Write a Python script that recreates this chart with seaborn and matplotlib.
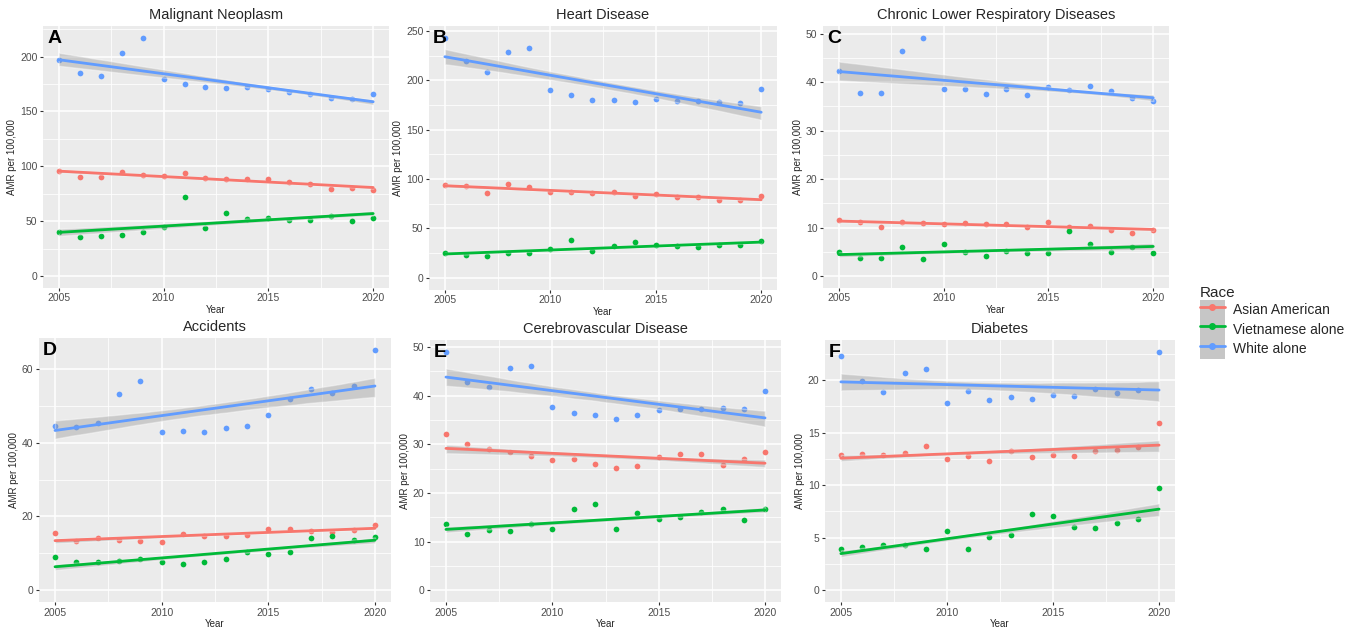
import matplotlib
matplotlib.use("Agg")
import matplotlib.pyplot as plt
import numpy as np
import pandas as pd
import seaborn as sns
from matplotlib.lines import Line2D
from matplotlib.patches import Patch
from matplotlib.ticker import MultipleLocator

# ----------------
# Data
# ----------------
years = list(range(2005, 2021))
races = ["Asian American", "Vietnamese alone", "White alone"]
colors = ["#F8766D", "#00BA38", "#619CFF"]

causes = ["Malignant Neoplasm", "Heart Disease", "Chronic Lower Respiratory Diseases",
          "Accidents", "Cerebrovascular Disease", "Diabetes"]
letters = ["A", "B", "C", "D", "E", "F"]

neoplasm_asian = [95.5, 90, 90.5, 95, 92, 91.5, 93.5, 89.5, 88, 88, 88.5, 85.5, 84, 79.5, 80.5, 78.5]
neoplasm_viet = [40, 36, 36.5, 37, 40.5, 45, 72, 43.5, 57.5, 52, 53, 51, 51.5, 55, 50.5, 52.5]
neoplasm_white = [197, 185, 182, 203, 217, 180, 175, 172.5, 171.5, 172, 170, 167.5, 165.5, 162.5, 161.5, 165.5]

heart_asian = [94, 93, 86, 95.5, 92, 87, 87, 86, 87, 83, 85, 82, 82, 79, 78.5, 83]
heart_viet = [25.5, 23, 22, 25, 25.5, 29, 38, 27.5, 32, 36, 33, 32.5, 31, 33, 33, 37]
heart_white = [243, 220, 209, 228.5, 233, 190, 185, 180.5, 180.5, 178, 181.5, 179, 179.5, 178.5, 177, 191.5]

clrd_asian = [11.5, 11.1, 10.1, 11.1, 10.9, 10.7, 10.9, 10.8, 10.8, 10.1, 11.1, 10.2, 10.4, 9.5, 8.9, 9.4]
clrd_viet = [4.9, 3.8, 3.8, 6.0, 3.6, 6.7, 4.9, 4.2, 5.1, 4.7, 4.7, 9.2, 6.7, 5.0, 6.0, 4.8]
clrd_white = [42.3, 37.8, 37.8, 46.5, 49.1, 38.5, 38.5, 37.6, 38.6, 37.4, 38.9, 38.3, 39.1, 38.2, 36.7, 36.1]

accidents_asian = [15.5, 13.3, 14.2, 13.5, 13.3, 13.0, 15.3, 14.7, 14.7, 15.0, 16.6, 16.5, 16.1, 15.8, 16.4, 17.6]
accidents_viet = [9.1, 7.6, 7.5, 8.0, 8.5, 7.6, 7.1, 7.7, 8.3, 10.3, 9.9, 10.4, 14.1, 14.6, 13.6, 14.5]
accidents_white = [44.6, 44.4, 45.3, 53.3, 56.8, 42.9, 43.1, 42.9, 44.1, 44.6, 47.6, 51.9, 54.5, 53.6, 55.3, 65.2]

cerebro_asian = [32.2, 30.0, 29.1, 28.5, 27.6, 26.7, 27.0, 26.0, 25.2, 25.5, 27.3, 28.0, 27.9, 25.8, 26.9, 28.4]
cerebro_viet = [13.5, 11.6, 12.3, 12.1, 13.5, 12.5, 16.7, 17.7, 12.5, 15.9, 14.6, 15.1, 16.1, 16.7, 14.4, 16.6]
cerebro_white = [49.0, 42.8, 41.8, 45.6, 46.1, 37.6, 36.5, 36.0, 35.3, 36.0, 37.0, 37.2, 37.3, 37.5, 37.3, 41.0]

diabetes_asian = [12.9, 13.0, 12.9, 13.1, 13.7, 12.5, 12.8, 12.3, 13.3, 12.7, 12.9, 12.8, 13.3, 13.4, 13.6, 15.9]
diabetes_viet = [3.9, 4.1, 4.3, 4.3, 3.9, 5.6, 3.9, 5.1, 5.3, 7.3, 7.1, 6.0, 5.9, 6.4, 6.8, 9.7]
diabetes_white = [22.3, 19.9, 18.9, 20.7, 21.1, 17.8, 19.0, 18.1, 18.4, 18.2, 18.6, 18.5, 19.2, 18.8, 19.1, 22.7]

series = {
    "Malignant Neoplasm": [neoplasm_asian, neoplasm_viet, neoplasm_white],
    "Heart Disease": [heart_asian, heart_viet, heart_white],
    "Chronic Lower Respiratory Diseases": [clrd_asian, clrd_viet, clrd_white],
    "Accidents": [accidents_asian, accidents_viet, accidents_white],
    "Cerebrovascular Disease": [cerebro_asian, cerebro_viet, cerebro_white],
    "Diabetes": [diabetes_asian, diabetes_viet, diabetes_white],
}

rows = []
for cause, vals in series.items():
    for race, v in zip(races, vals):
        for yr, amr in zip(years, v):
            rows.append({"Cause": cause, "Race": race, "Year": yr, "AMR": amr})
df = pd.DataFrame(rows)

y_steps = [50, 50, 10, 20, 10, 5]

# panel boxes in figure fraction: left, bottom, width, height
boxes = [
    (0.0314, 0.543, 0.2527, 0.4157),
    (0.3134, 0.540, 0.2542, 0.4187),
    (0.6012, 0.543, 0.2527, 0.4157),
    (0.0285, 0.0444, 0.2571, 0.4191),
    (0.3141, 0.0444, 0.2564, 0.4159),
    (0.6026, 0.0444, 0.2557, 0.4159),
]

sns.set_theme(style="darkgrid", rc={"axes.facecolor": "#EBEBEB", "grid.color": "white"})
plt.rcParams["font.family"] = ["Liberation Sans", "DejaVu Sans"]

fig = plt.figure(figsize=(13.69, 6.3), dpi=100)

for i, cause in enumerate(causes):
    ax = fig.add_axes(boxes[i])
    sub = df[df["Cause"] == cause]
    for race, col in zip(races, colors):
        d = sub[sub["Race"] == race]
        sns.regplot(data=d, x="Year", y="AMR", ax=ax, color=col, ci=68,
                    n_boot=1000, seed=7,
                    scatter_kws=dict(s=17, linewidths=0, alpha=1, zorder=2),
                    line_kws=dict(lw=2, zorder=4))
        band = ax.collections[-1]
        band.set_facecolor("#999999")
        band.set_alpha(0.4)
        band.set_zorder(3)

    ymax = sub["AMR"].max()
    ax.set_xlim(2004.25, 2020.75)
    ax.set_ylim(-0.05 * ymax, 1.05 * ymax)
    ax.xaxis.set_major_locator(MultipleLocator(5))
    ax.xaxis.set_minor_locator(MultipleLocator(2.5))
    ax.yaxis.set_major_locator(MultipleLocator(y_steps[i]))
    ax.yaxis.set_minor_locator(MultipleLocator(y_steps[i] / 2))
    ax.grid(which="major", color="white", lw=1.1)
    ax.grid(which="minor", color="white", lw=0.55)
    ax.tick_params(which="major", length=2.5, width=0.8, color="#333333",
                   labelsize=7.5, labelcolor="#4D4D4D", pad=1.5,
                   bottom=True, left=True)
    ax.tick_params(which="minor", length=0)
    for s in ax.spines.values():
        s.set_visible(False)
    ax.set_xlabel("Year", fontsize=7, labelpad=1)
    ax.set_ylabel("AMR per 100,000", fontsize=7, labelpad=2)
    ax.set_title(cause, fontsize=10.5, pad=5)
    ax.text(0.012, 0.985, letters[i], transform=ax.transAxes, ha="left", va="top",
            fontsize=14, fontweight="bold", color="black", zorder=6)

# ----------------
# Legend
# ----------------
handles = [(Patch(facecolor="#C6C6C6", edgecolor="none"),
            Line2D([], [], color=c, lw=2, marker="o", ms=4)) for c in colors]
leg = fig.legend(handles, races, title="Race", loc="upper left",
                 bbox_to_anchor=(1194 / 1369, 1 - 280 / 630), frameon=False,
                 fontsize=10, title_fontsize=11, handlelength=1.8, handleheight=1.8,
                 labelspacing=0, handletextpad=0.6, borderaxespad=0)
leg._legend_box.align = "left"

fig.savefig("out.png", dpi=100)
